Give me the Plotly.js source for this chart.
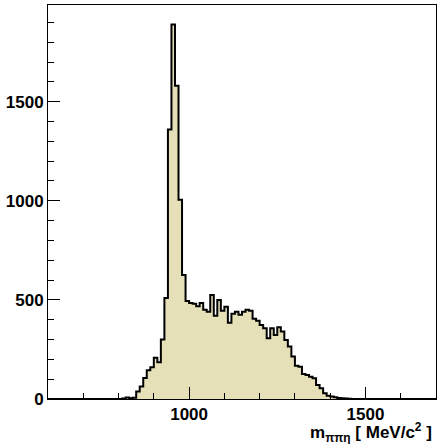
<!DOCTYPE html>
<html>
<head>
<meta charset="utf-8">
<script src="https://cdn.plot.ly/plotly-3.0.1.min.js"></script>
<style>html,body{margin:0;padding:0;background:#fff;}#plot{width:442px;height:444px;}</style>
</head>
<body>
<div id="plot"></div>
<script>
// Bin lower edges (MeV/c^2), bin width 10
var binLow = [600,790,800,810,820,830,840,850,860,870,880,890,900,910,920,930,940,950,960,970,980,990,
  1000,1010,1020,1030,1040,1050,1060,1070,1080,1090,1100,1110,1120,1130,1140,1150,1160,1170,1180,1190,
  1200,1210,1220,1230,1240,1250,1260,1270,1280,1290,1300,1310,1320,1330,1340,1350,1360,1370,1380,1390,
  1400,1410,1420,1430,1440,1450,1460,1700];
// Entries per bin
var counts = [0,0,0,2,8,4,6,38,63,106,145,160,208,185,300,510,1360,1890,1580,1005,626,495,
  485,480,468,485,450,440,525,420,500,445,465,385,430,440,425,440,450,445,405,395,
  374,357,306,357,323,362,340,298,265,215,168,163,126,121,112,105,71,54,29,16,
  12,9,5,4,2,1,0,0];
var xRange = [600, 1700];
var yRange = [0, 1988];
var xTitle = '<b>m<sub>ππη</sub> [ MeV/c<sup>2</sup> ]</b>';

var fnt = {family: 'Liberation Sans, Arial, sans-serif', size: 17, color: '#000', weight: 'bold'};

var trace = {
  type: 'scatter', mode: 'lines',
  x: binLow, y: counts,
  line: {shape: 'hv', color: '#000', width: 2},
  fill: 'tozeroy', fillcolor: 'rgb(230,224,185)',
  hoverinfo: 'skip'
};

var layout = {
  width: 442, height: 444,
  margin: {l: 48, r: 6, t: 5, b: 45},
  paper_bgcolor: '#fff', plot_bgcolor: '#fff',
  showlegend: false,
  font: fnt,
  xaxis: {
    range: xRange, showgrid: false, zeroline: false,
    showline: true, linecolor: '#000', linewidth: 1, mirror: true,
    ticks: 'inside', ticklen: 12, tickwidth: 1, tickcolor: '#000',
    tickmode: 'linear', tick0: 1000, dtick: 500,
    minor: {ticks: 'inside', ticklen: 6, dtick: 100, tick0: 600, tickcolor: '#000', tickwidth: 1},
    tickfont: fnt
  },
  yaxis: {
    range: yRange, showgrid: false, zeroline: false,
    showline: true, linecolor: '#000', linewidth: 1, mirror: true,
    ticks: 'inside', ticklen: 12, tickwidth: 1, tickcolor: '#000',
    tickmode: 'linear', tick0: 0, dtick: 500,
    minor: {ticks: 'inside', ticklen: 6, dtick: 100, tick0: 0, tickcolor: '#000', tickwidth: 1},
    tickfont: fnt
  },
  annotations: [{
    text: xTitle, xref: 'paper', yref: 'paper', x: 0.995, y: -0.048,
    xanchor: 'right', yanchor: 'top', showarrow: false, font: fnt
  }]
};

Plotly.newPlot('plot', [trace], layout, {staticPlot: true, displayModeBar: false});
</script>
</body>
</html>
